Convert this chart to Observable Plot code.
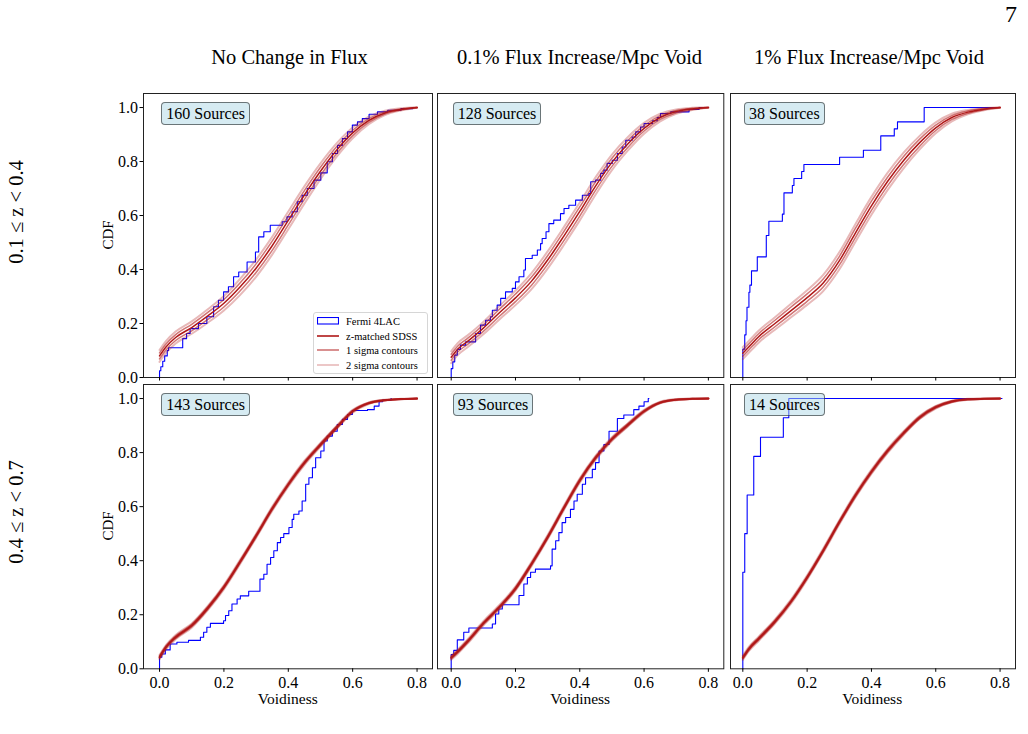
<!DOCTYPE html>
<html><head><meta charset="utf-8">
<script src="https://cdn.jsdelivr.net/npm/d3@7"></script>
<script src="https://cdn.jsdelivr.net/npm/@observablehq/plot@0.6"></script>
<style>
body{margin:0;background:#fff;}
#fig{position:relative;width:1028px;height:734px;background:#fff;font-family:"Liberation Serif",serif;color:#000;overflow:hidden}
.abs{position:absolute;white-space:nowrap;line-height:1}
.ctr{transform:translate(-50%,-50%)}
.rot{transform:translate(-50%,-50%) rotate(-90deg)}
.srcbox{position:absolute;white-space:nowrap;font-size:16px;line-height:21px;padding:0 4px;border:1px solid rgba(0,0,0,0.5);border-radius:4px;background:rgba(173,216,230,0.5)}
.legend{position:absolute;border:1px solid #d6d6d6;border-radius:3px;background:rgba(255,255,255,0.85);font-size:10.5px}
.legend .row{position:absolute;left:3px;height:14px;display:flex;align-items:center;white-space:nowrap}
.legend svg{margin-right:7px}
</style></head><body><div id="fig"></div><script>
// ---------- data ----------
const colTitles = ["No Change in Flux", "0.1% Flux Increase/Mpc Void", "1% Flux Increase/Mpc Void"];
const rowLabels = ["0.1 \u2264 z < 0.4", "0.4 \u2264 z < 0.7"];
const sourceCounts = [[160, 128, 38], [143, 93, 14]];
const legendLabels = ["Fermi 4LAC", "z-matched SDSS", "1 sigma contours", "2 sigma contours"];
const xTicks = [0, 0.2, 0.4, 0.6, 0.8];
const yTicks = [0, 0.2, 0.4, 0.6, 0.8, 1.0];

// voidiness grid where the SDSS median CDF was read
const voidGrid = [0, 0.02, 0.05, 0.1, 0.15, 0.2, 0.25, 0.3, 0.35, 0.4, 0.45, 0.5, 0.55, 0.6, 0.65, 0.7, 0.75, 0.8];
const sdssTopLeft  = [0.08, 0.113, 0.148, 0.185, 0.228, 0.275, 0.335, 0.405, 0.488, 0.582, 0.676, 0.764, 0.842, 0.906, 0.952, 0.98, 0.993, 1.0];
const sdssTopMid   = [0.075, 0.105, 0.133, 0.183, 0.24, 0.295, 0.357, 0.435, 0.523, 0.615, 0.711, 0.797, 0.866, 0.923, 0.963, 0.985, 0.995, 1.0];
const sdssTopRight = [0.09, 0.115, 0.152, 0.2, 0.248, 0.296, 0.35, 0.432, 0.535, 0.636, 0.726, 0.804, 0.87, 0.925, 0.963, 0.983, 0.994, 1.0];
const sdssBotLeft  = [0.043, 0.08, 0.117, 0.16, 0.225, 0.302, 0.395, 0.492, 0.592, 0.682, 0.762, 0.829, 0.893, 0.953, 0.983, 0.994, 0.998, 1.0];
const sdssBotMid   = [0.041, 0.063, 0.1, 0.168, 0.228, 0.297, 0.388, 0.487, 0.594, 0.697, 0.782, 0.85, 0.903, 0.953, 0.985, 0.996, 0.999, 1.0];
const sdssBotRight = [0.041, 0.075, 0.112, 0.175, 0.249, 0.338, 0.437, 0.542, 0.641, 0.729, 0.806, 0.872, 0.93, 0.968, 0.989, 0.997, 0.999, 1.0];
// half-widths of the contour bands (CDF units)
const sig1Top = [0.011, 0.011, 0.011, 0.012, 0.013, 0.014, 0.015, 0.016, 0.017, 0.017, 0.016, 0.015, 0.013, 0.01, 0.007, 0.004, 0.002, 0.0005];
const sig2Top = [0.022, 0.022, 0.022, 0.023, 0.025, 0.027, 0.03, 0.032, 0.033, 0.033, 0.032, 0.029, 0.025, 0.02, 0.014, 0.008, 0.004, 0.001];
const sig1Bot = [0.004, 0.004, 0.004, 0.004, 0.004, 0.004, 0.004, 0.004, 0.004, 0.004, 0.004, 0.004, 0.004, 0.003, 0.002, 0.001, 0.0005, 0];
const sig2Bot = [0.008, 0.008, 0.008, 0.008, 0.008, 0.008, 0.008, 0.008, 0.008, 0.008, 0.008, 0.007, 0.006, 0.005, 0.003, 0.002, 0.001, 0];

// Fermi 4LAC empirical CDFs: [voidiness, CDF] at each step
const fermiTopLeft = [[0,0],[0,0.025],[0.004,0.04],[0.01,0.06],[0.016,0.08],[0.024,0.1],[0.028,0.11],[0.072,0.144],[0.084,0.163],[0.095,0.181],[0.121,0.2],[0.147,0.225],[0.168,0.262],[0.183,0.286],[0.199,0.317],[0.214,0.336],[0.23,0.373],[0.246,0.391],[0.272,0.428],[0.298,0.465],[0.308,0.521],[0.324,0.54],[0.344,0.564],[0.381,0.577],[0.396,0.595],[0.412,0.614],[0.428,0.651],[0.443,0.675],[0.459,0.7],[0.48,0.731],[0.501,0.758],[0.521,0.799],[0.537,0.83],[0.553,0.86],[0.568,0.885],[0.584,0.91],[0.599,0.935],[0.615,0.947],[0.63,0.959],[0.651,0.975],[0.677,0.984],[0.709,0.99],[0.75,0.996],[0.787,1.0],[0.79,1.0]];
const fermiTopMid = [[0,0],[0,0.033],[0.005,0.058],[0.011,0.083],[0.019,0.104],[0.029,0.12],[0.045,0.132],[0.076,0.163],[0.091,0.194],[0.107,0.212],[0.122,0.225],[0.128,0.249],[0.143,0.268],[0.154,0.293],[0.169,0.317],[0.19,0.33],[0.2,0.354],[0.211,0.373],[0.226,0.398],[0.231,0.441],[0.252,0.453],[0.268,0.472],[0.278,0.496],[0.283,0.515],[0.295,0.54],[0.304,0.57],[0.319,0.583],[0.34,0.607],[0.351,0.626],[0.366,0.638],[0.387,0.657],[0.408,0.675],[0.428,0.681],[0.434,0.725],[0.449,0.731],[0.465,0.756],[0.475,0.768],[0.485,0.793],[0.501,0.805],[0.517,0.83],[0.532,0.854],[0.543,0.879],[0.563,0.891],[0.574,0.91],[0.589,0.928],[0.6,0.941],[0.626,0.951],[0.641,0.963],[0.651,0.978],[0.683,0.984],[0.74,0.993],[0.771,1.0],[0.781,1.0]];
const fermiTopRight = [[0,0],[0,0.105],[0.006,0.158],[0.01,0.21],[0.013,0.26],[0.019,0.316],[0.022,0.342],[0.027,0.395],[0.045,0.447],[0.073,0.526],[0.081,0.579],[0.123,0.605],[0.128,0.684],[0.154,0.711],[0.159,0.737],[0.183,0.763],[0.19,0.789],[0.301,0.816],[0.375,0.842],[0.429,0.895],[0.471,0.921],[0.481,0.947],[0.564,1.0],[0.798,1.0]];
const fermiBotLeft = [[0,0],[0,0.043],[0.007,0.055],[0.018,0.07],[0.033,0.092],[0.054,0.098],[0.09,0.105],[0.127,0.117],[0.137,0.135],[0.147,0.154],[0.158,0.168],[0.199,0.178],[0.205,0.197],[0.215,0.215],[0.225,0.24],[0.241,0.258],[0.251,0.27],[0.277,0.287],[0.312,0.332],[0.324,0.35],[0.334,0.387],[0.345,0.412],[0.355,0.437],[0.366,0.467],[0.376,0.486],[0.386,0.5],[0.402,0.523],[0.412,0.553],[0.417,0.572],[0.433,0.584],[0.443,0.621],[0.454,0.683],[0.464,0.707],[0.475,0.744],[0.485,0.781],[0.501,0.806],[0.511,0.843],[0.521,0.861],[0.537,0.879],[0.552,0.904],[0.568,0.923],[0.584,0.941],[0.599,0.956],[0.646,0.959],[0.667,0.972],[0.682,0.988],[0.693,0.994],[0.719,1.0],[0.72,1.0]];
const fermiBotMid = [[0,0],[0,0.053],[0.008,0.068],[0.019,0.107],[0.039,0.135],[0.055,0.151],[0.128,0.166],[0.138,0.203],[0.148,0.221],[0.159,0.237],[0.211,0.271],[0.226,0.314],[0.237,0.338],[0.247,0.357],[0.262,0.369],[0.309,0.381],[0.314,0.443],[0.325,0.474],[0.335,0.504],[0.345,0.541],[0.356,0.56],[0.371,0.59],[0.382,0.621],[0.392,0.646],[0.408,0.683],[0.418,0.707],[0.439,0.738],[0.449,0.763],[0.46,0.806],[0.475,0.83],[0.491,0.879],[0.517,0.926],[0.537,0.939],[0.568,0.959],[0.584,0.972],[0.6,0.988],[0.613,1.0],[0.615,1.0]];
const fermiBotRight = [[0,0],[0,0.357],[0.006,0.5],[0.0135,0.643],[0.034,0.786],[0.055,0.857],[0.126,0.929],[0.143,1.0],[0.806,1.0]];

// ---------- layout ----------
const cols = [
  {left: 143.3, right: 432.3, xMin: -0.0498},
  {left: 437.0, right: 723.3, xMin: -0.0426},
  {left: 729.7, right: 1014.7, xMin: -0.0383}
];
const rows = [{top: 93.3, bottom: 377.3}, {top: 384.0, bottom: 668.3}];
const xMax = 0.848, yMax = 1.052;
const RED = "#b01818", BLUE = "#0000ff";

const panels = [
  {row: 0, col: 0, sdss: sdssTopLeft,  fermi: fermiTopLeft,  s1: sig1Top, s2: sig2Top},
  {row: 0, col: 1, sdss: sdssTopMid,   fermi: fermiTopMid,   s1: sig1Top, s2: sig2Top},
  {row: 0, col: 2, sdss: sdssTopRight, fermi: fermiTopRight, s1: sig1Top, s2: sig2Top},
  {row: 1, col: 0, sdss: sdssBotLeft,  fermi: fermiBotLeft,  s1: sig1Bot, s2: sig2Bot},
  {row: 1, col: 1, sdss: sdssBotMid,   fermi: fermiBotMid,   s1: sig1Bot, s2: sig2Bot},
  {row: 1, col: 2, sdss: sdssBotRight, fermi: fermiBotRight, s1: sig1Bot, s2: sig2Bot}
];

const fig = document.getElementById("fig");
function addDiv(html, x, y, cls, extra) {
  const d = document.createElement("div");
  d.className = "abs " + (cls || "");
  d.style.left = x + "px"; d.style.top = y + "px";
  if (extra) Object.assign(d.style, extra);
  d.innerHTML = html;
  fig.appendChild(d);
  return d;
}

for (const p of panels) {
  const c = cols[p.col], r = rows[p.row];
  const w = c.right - c.left, h = r.bottom - r.top;
  const ml = 50, mr = 6, mt = 6, mb = 40;
  const band = (s, sign) => voidGrid.map((u, i) => ({u, v: p.sdss[i] + sign * (s ? s[i] : 0)}));
  const fermi = p.fermi.map(([u, v]) => ({u, v}));
  const lineOpts = {x: "u", y: "v", curve: "monotone-x", stroke: RED};
  const bottomRow = p.row === 1;
  const marks = [
    Plot.line(fermi, {x: "u", y: "v", curve: "step-after", stroke: BLUE, strokeWidth: 1.1}),
    Plot.line(band(p.s2, -1), {...lineOpts, strokeOpacity: 0.3, strokeWidth: 2}),
    Plot.line(band(p.s2, 1), {...lineOpts, strokeOpacity: 0.3, strokeWidth: 2}),
    Plot.line(band(p.s1, -1), {...lineOpts, strokeOpacity: 0.6, strokeWidth: bottomRow ? 1.8 : 1.5}),
    Plot.line(band(p.s1, 1), {...lineOpts, strokeOpacity: 0.6, strokeWidth: bottomRow ? 1.8 : 1.5}),
    Plot.line(band(null, 0), {...lineOpts, strokeWidth: bottomRow ? 2 : 1.5}),
    Plot.frame({stroke: "#222", strokeWidth: 1}),
    Plot.axisX({ticks: xTicks, tickSize: 3.5, tickPadding: 4, label: null,
      tickFormat: bottomRow ? d3.format(".1f") : () => ""})
  ];
  if (p.col === 0) marks.push(Plot.axisY({ticks: yTicks, tickSize: 3.5, tickPadding: 2, label: null, tickFormat: d3.format(".1f")}));
  const svg = Plot.plot({
    width: w + ml + mr, height: h + mt + mb,
    marginLeft: ml, marginRight: mr, marginTop: mt, marginBottom: mb,
    x: {domain: [c.xMin, xMax], axis: null},
    y: {domain: [0, yMax], axis: null},
    style: {fontFamily: "'Liberation Serif', serif", fontSize: "16px", background: "transparent", overflow: "visible", color: "#000"},
    marks
  });
  svg.style.position = "absolute";
  svg.style.left = (c.left - ml) + "px";
  svg.style.top = (r.top - mt) + "px";
  svg.style.maxWidth = "none";
  fig.appendChild(svg);

  // source-count box
  const x0 = c.left + (0 - c.xMin) / (xMax - c.xMin) * w;
  const b = document.createElement("div");
  b.className = "srcbox";
  b.style.left = (x0 + 2) + "px";
  b.style.top = (r.top + 9) + "px";
  b.textContent = sourceCounts[p.row][p.col] + " Sources";
  fig.appendChild(b);
}

// column titles
const titleX = [289.5, 579.5, 869];
colTitles.forEach((t, i) => addDiv(t, titleX[i], 57, "ctr", {fontSize: "20.5px"}));
// row labels
const rowLabY = [212, 512];
rowLabels.forEach((t, i) => addDiv(t, 16, rowLabY[i], "rot", {fontSize: "20.5px"}));
// axis labels
rows.forEach(r => addDiv("CDF", 108, (r.top + r.bottom) / 2, "rot", {fontSize: "15px"}));
cols.forEach(c => addDiv("Voidiness", (c.left + c.right) / 2, 699, "ctr", {fontSize: "15.5px"}));
// page number
addDiv("7", 1011, 14, "ctr", {fontSize: "24px"});

// legend in the top-left panel
const leg = document.createElement("div");
leg.className = "legend";
Object.assign(leg.style, {left: "313px", top: "312px", width: "113px", height: "60px"});
const swatches = [
  '<svg width="22" height="8"><rect x="0.5" y="0.5" width="21" height="6.5" fill="none" stroke="' + BLUE + '" stroke-width="1.1"/></svg>',
  '<svg width="22" height="8"><line x1="0" x2="22" y1="4" y2="4" stroke="' + RED + '" stroke-width="1.6"/></svg>',
  '<svg width="22" height="8"><line x1="0" x2="22" y1="4" y2="4" stroke="' + RED + '" stroke-opacity="0.6" stroke-width="1.6"/></svg>',
  '<svg width="22" height="8"><line x1="0" x2="22" y1="4" y2="4" stroke="' + RED + '" stroke-opacity="0.3" stroke-width="1.6"/></svg>'
];
const legRowY = [1, 16, 30, 45];
legendLabels.forEach((t, i) => {
  const r = document.createElement("div");
  r.className = "row";
  r.style.top = legRowY[i] + "px";
  r.innerHTML = swatches[i] + "<span>" + t + "</span>";
  leg.appendChild(r);
});
fig.appendChild(leg);
</script></body></html>
